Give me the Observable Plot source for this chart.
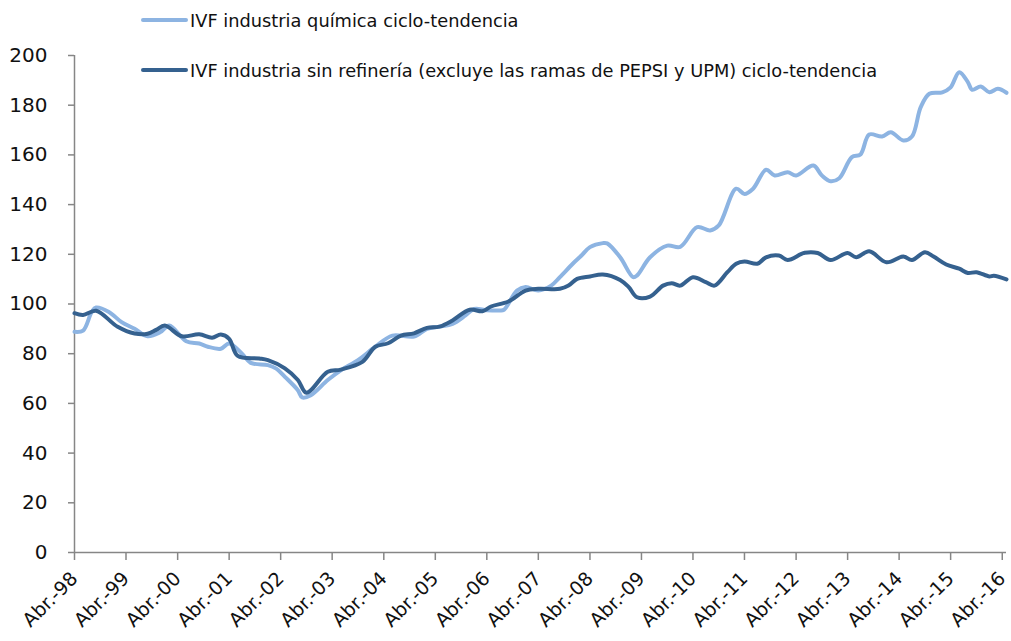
<!DOCTYPE html>
<html><head><meta charset="utf-8">
<script src="https://cdn.jsdelivr.net/npm/d3@7"></script>
<script src="https://cdn.jsdelivr.net/npm/@observablehq/plot@0.6"></script>
<style>
body{margin:0;background:#fff;}
#wrap{position:relative;width:1011px;height:641px;font-family:"DejaVu Sans",sans-serif;}
.leg{position:absolute;left:141px;height:24px;display:flex;align-items:center;font-size:17.8px;color:#111;white-space:nowrap}
.sw{width:47px;height:4px;border-radius:2px;margin-right:2px}
</style></head><body><div id="wrap"></div>
<script>
const seriesNames = [
  "IVF industria química ciclo-tendencia",
  "IVF industria sin refinería (excluye las ramas de PEPSI y UPM) ciclo-tendencia"
];
const seriesColors = ["#8db4e2", "#35618f"];

const chemDates = ["1998-04","1998-06","1998-08","1998-09","1998-12","1999-03","1999-06","1999-09","1999-12","2000-02","2000-06","2000-09","2000-11","2001-02","2001-04","2001-07","2001-09","2002-01","2002-03","2002-05","2002-08","2002-09","2002-11","2003-03","2003-06","2003-10","2004-02","2004-06","2004-11","2005-02","2005-05","2005-08","2005-11","2006-01","2006-04","2006-07","2006-08","2006-11","2007-01","2007-04","2007-07","2007-09","2007-12","2008-02","2008-04","2008-07","2008-08","2008-11","2009-02","2009-03","2009-06","2009-10","2010-01","2010-05","2010-08","2010-10","2011-02","2011-04","2011-06","2011-09","2011-11","2012-02","2012-04","2012-08","2012-10","2012-12","2013-02","2013-05","2013-07","2013-09","2013-12","2014-02","2014-05","2014-07","2014-09","2014-11","2015-02","2015-04","2015-06","2015-08","2015-09","2015-11","2016-01","2016-03","2016-05"];
const chemValues = [88.8,89.3,96.8,98.6,96.8,92.7,90,87,88.7,91.3,85,84.1,82.8,82,84.1,80,76.3,75.4,74,70.7,65.3,62.4,63.3,69.4,73.3,77.4,82.8,87.3,86.9,90,90.9,92,95.4,98,97.5,97.4,97.7,105.4,106.8,105.4,107.4,110.8,116.2,119.5,122.9,124.5,124.4,118.8,110.8,111.5,118.8,123.5,123,130.9,129.6,131.6,146.4,144.3,146.4,154,151.7,153,151.7,155.7,151.7,149.4,150.6,159.1,160.2,168.2,167.4,169.1,165.8,167.4,179.2,184.6,185.2,187.2,193.3,189.3,186.2,187.5,185.2,186.6,185];

const indDates = ["1998-04","1998-06","1998-09","1999-02","1999-06","1999-09","1999-11","2000-01","2000-05","2000-09","2000-12","2001-02","2001-04","2001-06","2001-11","2002-01","2002-05","2002-08","2002-10","2003-03","2003-06","2003-11","2004-02","2004-05","2004-08","2004-11","2005-02","2005-05","2005-08","2005-12","2006-03","2006-05","2006-09","2007-01","2007-04","2007-09","2007-11","2008-01","2008-04","2008-07","2008-11","2009-01","2009-03","2009-06","2009-09","2009-11","2010-01","2010-04","2010-07","2010-09","2010-12","2011-02","2011-04","2011-07","2011-09","2011-12","2012-02","2012-06","2012-09","2012-12","2013-04","2013-06","2013-09","2014-01","2014-05","2014-07","2014-10","2014-12","2015-03","2015-06","2015-08","2015-10","2016-01","2016-02","2016-05"];
const indValues = [96.3,95.6,97.3,90.8,88.1,88,89.6,91.3,87,87.8,86.4,87.7,86,79.1,78.1,77.4,74.1,69.4,64.3,72.7,73.6,76.7,82.8,84.2,87.3,88.2,90.4,90.9,93.4,97.7,97.1,99,101,105.4,106.1,106.1,107.4,110.1,111.1,111.9,109.7,106.8,102.7,103,107.4,108.4,107.4,110.8,108.8,107.4,112.8,116.2,117.1,116.2,118.8,119.5,117.7,120.6,120.5,117.7,120.5,118.8,121.2,116.8,119.1,117.7,120.8,119.1,115.9,114.2,112.5,112.8,111.1,111.4,109.9];

const tickYears = [1998,1999,2000,2001,2002,2003,2004,2005,2006,2007,2008,2009,2010,2011,2012,2013,2014,2015,2016];
const yTicks = [0,20,40,60,80,100,120,140,160,180,200];

const parse = d3.utcParse("%Y-%m");
const chem = chemDates.map((d,i)=>({date:parse(d), value:chemValues[i]}));
const ind = indDates.map((d,i)=>({date:parse(d), value:indValues[i]}));
const tickDates = tickYears.map(y=>new Date(Date.UTC(y,3,1)));
const x0 = new Date(Date.UTC(1998,3,1));
const x1 = new Date(Date.UTC(2016,4,1));
const axisGray = "#868686";

const chart = Plot.plot({
  width:1011, height:641,
  marginLeft:74, marginRight:5, marginTop:55, marginBottom:89,
  style:{fontFamily:"DejaVu Sans, sans-serif", background:"transparent", color:"#111"},
  x:{type:"utc", domain:[x0,x1], label:null},
  y:{domain:[0,200], label:null},
  marks:[
    Plot.ruleY([0],{stroke:axisGray, strokeWidth:1.5}),
    Plot.ruleX([x0],{stroke:axisGray, strokeWidth:1.5}),
    Plot.axisY({ticks:yTicks, tickSize:6, tickPadding:21, fontSize:20, stroke:axisGray, strokeWidth:1.5, label:null, tickFormat:d=>String(d)}),
    Plot.axisX({ticks:tickDates, tickSize:8, tickPadding:15, tickRotate:-45, fontSize:19, stroke:axisGray, strokeWidth:1.5, label:null,
      tickFormat:d=>"Abr.-"+String(d.getUTCFullYear()%100).padStart(2,"0")}),
    Plot.line(chem,{x:"date", y:"value", stroke:seriesColors[0], strokeWidth:4, curve:"catmull-rom"}),
    Plot.line(ind,{x:"date", y:"value", stroke:seriesColors[1], strokeWidth:4, curve:"catmull-rom"})
  ]
});
const wrap = document.getElementById("wrap");
wrap.appendChild(chart);
const tops = [8, 58];
seriesNames.forEach((n,i)=>{
  const el = document.createElement("div");
  el.className = "leg";
  el.style.top = tops[i]+"px";
  el.innerHTML = `<span class="sw" style="background:${seriesColors[i]}"></span><span>${n}</span>`;
  wrap.appendChild(el);
});
</script>
</body></html>
